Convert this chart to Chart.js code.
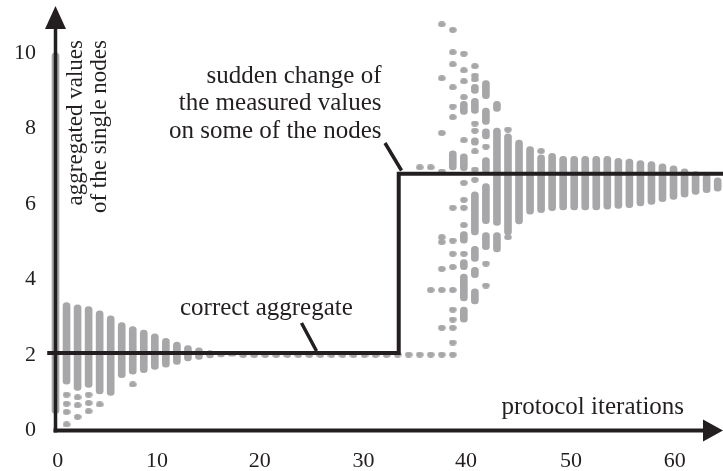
<!DOCTYPE html>
<html>
<head>
<meta charset="utf-8">
<script src="https://cdn.jsdelivr.net/npm/chart.js@4.4.0/dist/chart.umd.min.js"></script>
<style>
  html, body { margin: 0; padding: 0; background: #fff; }
  #wrap { width: 723px; height: 471px; }
</style>
</head>
<body>
<div id="wrap"><canvas id="chart" width="723" height="471"></canvas></div>
<script>
// x axis tick labels and where they sit, in protocol iterations
const xTickLabels = ['0', '10', '20', '30', '40', '50', '60'];
const xTickAt = [0.2, 9.2, 18.5, 27.9, 37.2, 46.7, 56.1];
const yTicks = [0, 2, 4, 6, 8, 10];

// correct aggregate before and after the change
const aggregateBefore = 2.05;
const aggregateAfter = 6.8;
const changeAt = 31.1;

// spread of the node values, [iteration, low, high]
const earlyRanges = [
	[0, 0.45, 10.0], [1, 1.23, 3.39], [2, 1.06, 3.33], [3, 1.14, 3.28], [4, 0.97, 3.17],
	[5, 0.93, 3.04], [6, 1.40, 2.86], [7, 1.49, 2.75], [8, 1.53, 2.66], [9, 1.62, 2.56],
	[10, 1.68, 2.44], [11, 1.75, 2.34], [12, 1.84, 2.25], [13, 1.88, 2.19], [14, 1.92, 2.12],
	[15, 1.95, 2.08], [16, 1.97, 2.05]
];
const burstRanges = [
	[36, 6.90, 7.41],
	[37, 8.37, 8.72], [37, 6.88, 7.33], [37, 4.96, 5.27], [37, 4.26, 4.53], [37, 3.43, 4.14], [37, 2.87, 3.27],
	[38, 8.93, 9.17], [38, 8.40, 8.80], [38, 7.56, 7.75], [38, 5.18, 6.32], [38, 4.48, 4.88], [38, 4.05, 4.32], [38, 3.35, 3.75],
	[39, 8.79, 9.27], [39, 8.11, 8.54], [39, 7.72, 7.99], [39, 6.83, 7.23], [39, 5.48, 6.54], [39, 4.79, 5.24],
	[40, 8.45, 8.72], [40, 5.43, 8.01], [40, 4.73, 5.24],
	[41, 5.18, 7.86]
];
const lateRanges = [
	[42, 5.47, 7.69], [43, 5.73, 7.52], [44, 5.77, 7.30], [45, 5.82, 7.34], [46, 5.84, 7.26],
	[47, 5.84, 7.26], [48, 5.84, 7.26], [49, 5.84, 7.26], [50, 5.86, 7.26], [51, 5.88, 7.21],
	[52, 5.90, 7.19], [53, 5.95, 7.15], [54, 5.99, 7.12], [55, 6.06, 7.06], [56, 6.12, 7.01],
	[57, 6.18, 6.93], [58, 6.25, 6.86], [59, 6.30, 6.78], [60, 6.34, 6.69]
];

// single nodes, [iteration, value]
const earlyStray = [
	[1, 0.95], [1, 0.71], [1, 0.49], [1, 0.16],
	[2, 0.88], [2, 0.67], [2, 0.36],
	[3, 0.95], [3, 0.73], [3, 0.51],
	[4, 0.69], [7, 1.22]
];
const flatNodes = [
	[17, 2.0], [18, 2.0], [19, 2.0], [20, 2.0], [21, 2.0], [22, 2.0], [23, 2.0], [24, 2.0], [25, 2.0], [26, 2.0],
	[27, 2.0], [28, 2.0], [29, 2.0], [30, 2.0], [31, 2.01], [32, 2.01], [33, 2.01], [34, 2.01], [35, 2.01], [36, 2.01]
];
const burstNodes = [
	[33, 6.97],
	[34, 6.97], [34, 3.72],
	[35, 10.76], [35, 9.33], [35, 7.88], [35, 6.86], [35, 5.12], [35, 4.99], [35, 4.28], [35, 3.72], [35, 2.72],
	[36, 10.61], [36, 10.02], [36, 9.70], [36, 9.09], [36, 8.58], [36, 8.30], [36, 5.90], [36, 5.03], [36, 4.68],
	[36, 4.33], [36, 3.72], [36, 3.20], [36, 2.94], [36, 2.72], [36, 2.33],
	[37, 9.98], [37, 9.54], [37, 9.25], [37, 8.83], [37, 7.69], [37, 6.56], [37, 6.11], [37, 5.90], [37, 5.44], [37, 4.68],
	[38, 9.65], [38, 9.40], [38, 9.30], [38, 8.13], [38, 7.94], [38, 7.39], [38, 6.91], [38, 6.64],
	[39, 7.52], [39, 4.42], [39, 3.84],
	[41, 7.97], [41, 5.12], [44, 7.40]
];

const gray = '#a7a7a9';
const ink = '#231f20';

function nodeDot() {
	const c = document.createElement('canvas');
	c.width = 8;
	c.height = 6;
	const g = c.getContext('2d');
	g.fillStyle = gray;
	g.beginPath();
	g.ellipse(4, 3, 3.8, 2.9, 0, 0, Math.PI * 2);
	g.fill();
	return c;
}

const ranges = earlyRanges.concat(burstRanges, lateRanges).map(r => ({ x: r[0], y: [r[1], r[2]] }));
const nodes = earlyStray.concat(flatNodes, burstNodes).map(p => ({ x: p[0], y: p[1] }));

const tickFont = { family: '"Liberation Serif", "Times New Roman", serif', size: 22 };

// axes with arrows, leaders and the labels
const frame = {
	id: 'frame',
	afterDatasetsDraw(chart) {
		const { ctx, scales: { x, y } } = chart;
		const x0 = x.getPixelForValue(0);
		const y0 = y.getPixelForValue(0);
		ctx.save();
		ctx.strokeStyle = ink;
		ctx.fillStyle = ink;

		ctx.lineWidth = 3.5;
		ctx.beginPath();
		ctx.moveTo(x0, y0 + 2);
		ctx.lineTo(x0, 26);
		ctx.stroke();
		ctx.beginPath();
		ctx.moveTo(x0, 6);
		ctx.lineTo(x0 - 10.5, 29);
		ctx.lineTo(x0 + 10.5, 29);
		ctx.closePath();
		ctx.fill();

		ctx.lineWidth = 4;
		ctx.beginPath();
		ctx.moveTo(x0 - 2, y0);
		ctx.lineTo(706, y0);
		ctx.stroke();
		ctx.beginPath();
		ctx.moveTo(723, y0);
		ctx.lineTo(703, y0 - 11);
		ctx.lineTo(703, y0 + 11);
		ctx.closePath();
		ctx.fill();

		ctx.lineWidth = 3.5;
		ctx.beginPath();
		ctx.moveTo(301.5, 323);
		ctx.lineTo(316.5, 351);
		ctx.moveTo(385, 143);
		ctx.lineTo(401.5, 170.5);
		ctx.stroke();

		ctx.font = '25px "Liberation Serif", serif';
		ctx.textBaseline = 'alphabetic';
		ctx.textAlign = 'right';
		ctx.fillText('sudden change of', 381.5, 82.5);
		ctx.fillText('the measured values', 381.5, 110);
		ctx.fillText('on some of the nodes', 381.5, 137.5);
		ctx.textAlign = 'left';
		ctx.fillText('correct aggregate', 180, 315);
		ctx.fillText('protocol iterations', 501.5, 414);

		ctx.font = '23px "Liberation Serif", serif';
		ctx.textAlign = 'right';
		ctx.translate(81.5, 40);
		ctx.rotate(-Math.PI / 2);
		ctx.fillText('aggregated values', 0, 0);
		ctx.fillText('of the single nodes', 0, 24.5);
		ctx.restore();
	}
};

new Chart(document.getElementById('chart'), {
	type: 'bar',
	data: {
		datasets: [
			{
				type: 'line',
				data: [
					{ x: -0.75, y: aggregateBefore }, { x: changeAt, y: aggregateBefore },
					{ x: changeAt, y: aggregateAfter }, { x: 61, y: aggregateAfter }
				],
				borderColor: ink,
				borderWidth: 4,
				borderJoinStyle: 'miter',
				pointRadius: 0,
				fill: false,
				clip: false
			},
			{
				type: 'scatter',
				data: nodes,
				pointStyle: nodeDot(),
				clip: false
			},
			{
				type: 'bar',
				data: ranges,
				backgroundColor: gray,
				barThickness: 7,
				borderRadius: 3.5,
				borderSkipped: false,
				grouped: false,
				clip: false
			}
		]
	},
	options: {
		responsive: false,
		devicePixelRatio: 1,
		animation: false,
		layout: { padding: 0 },
		plugins: {
			legend: { display: false },
			tooltip: { enabled: false }
		},
		scales: {
			x: {
				type: 'linear',
				min: 0,
				max: 60.03,
				offset: false,
				grid: { display: false },
				border: { display: false },
				afterBuildTicks: scale => { scale.ticks = xTickAt.map(v => ({ value: v })); },
				afterFit: scale => { scale.height = 40.5; scale.paddingLeft = 0; scale.paddingRight = 0; },
				ticks: {
					autoSkip: false,
					maxRotation: 0,
					padding: 10,
					color: ink,
					font: tickFont,
					callback: (value, index) => xTickLabels[index]
				}
			},
			y: {
				type: 'linear',
				min: 0,
				max: 11.27,
				grid: { display: false },
				border: { display: false },
				afterBuildTicks: scale => { scale.ticks = yTicks.map(v => ({ value: v })); },
				afterFit: scale => { scale.width = 55.5; scale.paddingTop = 0; scale.paddingBottom = 0; },
				ticks: {
					padding: 11.5,
					color: ink,
					font: tickFont
				}
			}
		}
	},
	plugins: [frame]
});
</script>
</body>
</html>
